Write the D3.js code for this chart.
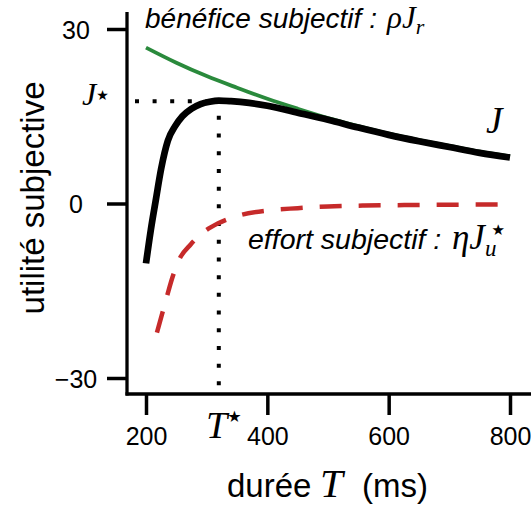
<!DOCTYPE html>
<html>
<head>
<meta charset="utf-8">
<script src="https://cdn.jsdelivr.net/npm/d3@7"></script>
<style>
  body { margin: 0; background: #fff; }
  svg { display: block; }
  .sans { font-family: "Liberation Sans", Arial, sans-serif; }
  .math { font-family: "Liberation Serif", "DejaVu Serif", serif; font-style: italic; }
  .star { font-family: "DejaVu Sans", sans-serif; }
</style>
</head>
<body>
<svg id="chart" width="531" height="507"></svg>
<script>
// tick labels
var xTicks = [200, 400, 600, 800];
var yTicks = [-30, 0, 30];

// J : utilité subjective totale
var dureesJ = [200, 208, 216, 225, 236, 248, 260, 275, 290, 305, 320, 340, 370, 400, 450, 500, 550, 600, 650, 700, 750, 800];
var valeursJ = [-10.3, -4.5, 0.5, 6.0, 10.8, 13.3, 15.0, 16.3, 17.1, 17.5, 17.7, 17.6, 17.3, 16.8, 15.6, 14.4, 13.05, 11.8, 10.7, 9.7, 8.7, 7.9];

// bénéfice subjectif (vert)
var dureesBenefice = [200, 250, 300, 350, 400, 450, 500, 550, 600, 650, 700, 750, 800];
var valeursBenefice = [26.8, 24.2, 21.9, 19.9, 18.0, 16.3, 14.7, 13.3, 12.0, 10.9, 9.9, 8.9, 8.1];

// effort subjectif (rouge, tirets)
var dureesEffort = [218, 226, 235, 243, 254, 274, 294, 319, 352, 400, 450, 500, 560, 650, 800];
var valeursEffort = [-22.2, -19.2, -15.8, -12.9, -9.8, -7.0, -5.0, -3.4, -2.1, -1.2, -0.8, -0.5, -0.35, -0.25, -0.15];

// optimum
var tEtoile = 320;
var jEtoile = 17.6;

var svg = d3.select("#chart");

var x = d3.scaleLinear().domain([200, 800]).range([146, 510]);
var y = d3.scaleLinear().domain([-30, 30]).range([378, 29]);

var axisX = 127;   // left axis line
var axisY = 394;   // bottom axis line

function zip(ts, vs) {
    return ts.map(function(t, i) { return [t, vs[i]]; });
}

var line = d3.line()
    .x(function(d) { return x(d[0]); })
    .y(function(d) { return y(d[1]); })
    .curve(d3.curveMonotoneX);

// axes
var gy = svg.append("g")
    .attr("transform", "translate(" + axisX + ",0)")
    .call(d3.axisLeft(y).tickValues(yTicks).tickSize(20).tickPadding(0));
gy.select(".domain").remove();
gy.selectAll(".tick line").attr("stroke", "#000").attr("stroke-width", 3.5);
gy.selectAll(".tick text")
    .attr("class", "sans")
    .attr("x", -51)
    .attr("dy", "0.36em")
    .attr("text-anchor", "middle")
    .attr("font-size", 25)
    .attr("fill", "#000");

var gx = svg.append("g")
    .attr("transform", "translate(0," + axisY + ")")
    .call(d3.axisBottom(x).tickValues(xTicks).tickSize(21).tickPadding(0));
gx.select(".domain").remove();
gx.selectAll(".tick line").attr("stroke", "#000").attr("stroke-width", 3.5);
gx.selectAll(".tick text")
    .attr("class", "sans")
    .attr("y", 51)
    .attr("dy", 0)
    .attr("font-size", 25)
    .attr("fill", "#000");

svg.append("line")
    .attr("x1", axisX).attr("x2", axisX)
    .attr("y1", 12).attr("y2", axisY + 1.5)
    .attr("stroke", "#000").attr("stroke-width", 3.3);
svg.append("line")
    .attr("x1", axisX - 1.5).attr("x2", 531)
    .attr("y1", axisY).attr("y2", axisY)
    .attr("stroke", "#000").attr("stroke-width", 3.3);

// dotted guides to the optimum
svg.append("line")
    .attr("x1", 135).attr("x2", x(tEtoile))
    .attr("y1", y(jEtoile)).attr("y2", y(jEtoile))
    .attr("stroke", "#000").attr("stroke-width", 4)
    .attr("stroke-dasharray", "4,13.6");
svg.append("line")
    .attr("x1", x(tEtoile)).attr("x2", x(tEtoile))
    .attr("y1", y(jEtoile) - 3).attr("y2", axisY - 6)
    .attr("stroke", "#000").attr("stroke-width", 4)
    .attr("stroke-dasharray", "4,13.7");

// curves
svg.append("path")
    .datum(zip(dureesBenefice, valeursBenefice))
    .attr("d", line)
    .attr("fill", "none")
    .attr("stroke", "#2a8a3c")
    .attr("stroke-width", 3.8);

svg.append("path")
    .datum(zip(dureesEffort, valeursEffort))
    .attr("d", line)
    .attr("fill", "none")
    .attr("stroke", "#c62a2a")
    .attr("stroke-width", 4.5)
    .attr("stroke-dasharray", "22,17");

svg.append("path")
    .datum(zip(dureesJ, valeursJ))
    .attr("d", line)
    .attr("fill", "none")
    .attr("stroke", "#000")
    .attr("stroke-width", 6.7);

// labels
var ben = svg.append("text").attr("x", 145).attr("y", 28);
ben.append("tspan").attr("class", "sans").attr("font-style", "italic").attr("font-size", 28)
    .text("bénéfice subjectif :");
ben.append("tspan").attr("class", "math").attr("x", 387).attr("font-size", 31).text("ρJ");
ben.append("tspan").attr("class", "math").attr("font-size", 22).attr("dy", 6).text("r");

var eff = svg.append("text").attr("x", 248).attr("y", 249);
eff.append("tspan").attr("class", "sans").attr("font-style", "italic").attr("font-size", 28.5)
    .text("effort subjectif :");
eff.append("tspan").attr("class", "math").attr("x", 452).attr("font-size", 35).text("ηJ");
eff.append("tspan").attr("class", "math").attr("font-size", 23).attr("dy", 7).text("u");
eff.append("tspan").attr("class", "star").attr("dx", -5).attr("dy", -21)
    .attr("font-size", 15).text("★");

svg.append("text").attr("class", "math")
    .attr("x", 486).attr("y", 133).attr("font-size", 37).text("J");

var js = svg.append("text").attr("x", 82).attr("y", 105);
js.append("tspan").attr("class", "math").attr("font-size", 32).text("J");
js.append("tspan").attr("class", "star").attr("font-size", 14).attr("dy", -5).text("★");

var ts = svg.append("text").attr("x", 206).attr("y", 438);
ts.append("tspan").attr("class", "math").attr("font-size", 38).text("T");
ts.append("tspan").attr("class", "star").attr("font-size", 16).attr("dy", -16).text("★");

// axis titles
var xt = svg.append("text").attr("x", 227).attr("y", 497);
xt.append("tspan").attr("class", "sans").attr("font-size", 33).text("durée ");
xt.append("tspan").attr("class", "math").attr("x", 320).attr("font-size", 41).text("T");
xt.append("tspan").attr("class", "sans").attr("x", 362).attr("font-size", 33).text("(ms)");

svg.append("text").attr("class", "sans")
    .attr("transform", "translate(44,198) rotate(-90)")
    .attr("text-anchor", "middle")
    .attr("font-size", 33)
    .text("utilité subjective");
</script>
</body>
</html>
